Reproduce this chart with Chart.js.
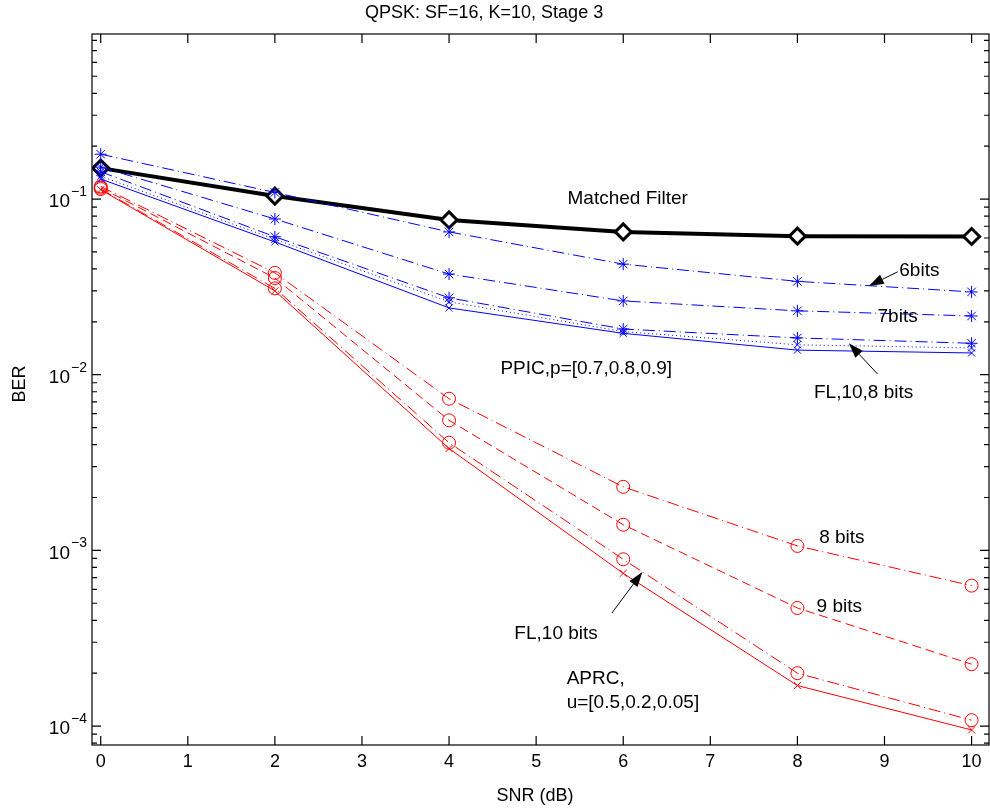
<!DOCTYPE html>
<html>
<head>
<meta charset="utf-8">
<script src="https://cdn.jsdelivr.net/npm/chart.js@4"></script>
<style>
  body { margin: 0; background: #fff; }
  #wrap { width: 990px; height: 812px; }
</style>
</head>
<body>
<div id="wrap"><canvas id="berChart" width="990" height="812"></canvas></div>
<script>
const snr = [0, 2, 4, 6, 8, 10];
const xTicks = [0, 1, 2, 3, 4, 5, 6, 7, 8, 9, 10];
const yDecades = [1e-4, 1e-3, 1e-2, 1e-1];
const yExponents = ['\u22124', '\u22123', '\u22122', '\u22121'];

// BER values
const matchedFilter = [0.150, 0.104, 0.076, 0.065, 0.0615, 0.0612];
const ppic6 = [0.180, 0.109, 0.065, 0.0426, 0.034, 0.0296];
const ppic7 = [0.152, 0.077, 0.0374, 0.0263, 0.0231, 0.0216];
const ppic8 = [0.143, 0.061, 0.0274, 0.0182, 0.0162, 0.0151];
const ppicFl8 = [0.135, 0.059, 0.026, 0.0176, 0.0148, 0.0142];
const ppicFl10 = [0.130, 0.057, 0.024, 0.0172, 0.0138, 0.0133];
const aprc8 = [0.118, 0.038, 0.0073, 0.0023, 0.00106, 0.00063];
const aprc9 = [0.116, 0.0355, 0.0055, 0.0014, 0.00047, 0.000225];
const aprc10 = [0.114, 0.031, 0.0041, 0.00089, 0.0002, 0.000108];
const aprcFl10 = [0.113, 0.030, 0.0038, 0.00074, 0.00017, 0.000095];

// text notes on the plot (data coordinates, left edge / vertical middle)
const noteTexts = ['Matched Filter', '6bits', '7bits', 'FL,10,8 bits', 'PPIC,p=[0.7,0.8,0.9]',
  '8 bits', '9 bits', 'FL,10 bits', 'APRC,', 'u=[0.5,0.2,0.05]'];
const noteX = [5.36, 9.17, 8.92, 8.19, 4.59, 8.25, 8.22, 4.75, 5.35, 5.35];
const noteY = [0.1, 0.0389, 0.0213, 0.00787, 0.01076, 0.001178, 0.000476, 0.000334, 0.000185, 0.000136];

// arrows: tail -> head
const arrowTail = [[9.15, 0.0385], [8.92, 0.0101], [5.87, 0.00044]];
const arrowHead = [[8.82, 0.032], [8.59, 0.0151], [6.22, 0.000753]];

const FONT = '"Liberation Sans", Arial, Helvetica, sans-serif';
const BLUE = '#0000ff';
const RED = '#ff0000';
const DASHDOT = [12, 4, 1, 4];
const DASH = [9, 5];
const DOT = [1, 3];

function pts(vals) {
  return vals.map((v, i) => ({ x: snr[i], y: v }));
}

function series(label, vals, color, dash, marker, radius, order) {
  return {
    label: label,
    data: pts(vals),
    borderColor: color,
    backgroundColor: 'rgba(0,0,0,0)',
    borderWidth: 1,
    borderDash: dash,
    pointStyle: marker,
    pointRadius: radius,
    pointBorderColor: color,
    pointBackgroundColor: 'rgba(0,0,0,0)',
    pointBorderWidth: 1,
    tension: 0,
    order: order
  };
}

const axisBox = {
  id: 'axisBox',
  afterDraw(chart) {
    const ctx = chart.ctx;
    const xs = chart.scales.x;
    const ys = chart.scales.y;
    const { left, right, top, bottom } = chart.chartArea;
    ctx.save();
    ctx.strokeStyle = '#000';
    ctx.fillStyle = '#000';
    ctx.lineWidth = 1.2;
    ctx.strokeRect(left, top, right - left, bottom - top);

    // x ticks and labels
    ctx.font = '18px ' + FONT;
    ctx.textAlign = 'center';
    ctx.textBaseline = 'top';
    xTicks.forEach(t => {
      const px = xs.getPixelForValue(t);
      ctx.beginPath();
      ctx.moveTo(px, bottom); ctx.lineTo(px, bottom - 9);
      ctx.moveTo(px, top); ctx.lineTo(px, top + 9);
      ctx.stroke();
      ctx.fillText(String(t), px, bottom + 8);
    });

    // y ticks (log) with minor ticks
    for (let e = -5; e <= 0; e++) {
      for (let m = 1; m <= 9; m++) {
        const v = m * Math.pow(10, e);
        if (v < ys.min || v > ys.max) continue;
        const py = ys.getPixelForValue(v);
        const len = m === 1 ? 9 : 5;
        ctx.beginPath();
        ctx.moveTo(left, py); ctx.lineTo(left + len, py);
        ctx.moveTo(right, py); ctx.lineTo(right - len, py);
        ctx.stroke();
      }
    }
    yDecades.forEach((d, i) => {
      const py = ys.getPixelForValue(d);
      ctx.font = '19px ' + FONT;
      ctx.textAlign = 'right';
      ctx.textBaseline = 'middle';
      ctx.fillText('10', 70, py + 3);
      ctx.font = '14px ' + FONT;
      ctx.textAlign = 'left';
      ctx.fillText(yExponents[i], 71, py - 7);
    });

    // title and axis labels
    ctx.font = '18px ' + FONT;
    ctx.textAlign = 'left';
    ctx.textBaseline = 'middle';
    ctx.fillText('QPSK: SF=16, K=10, Stage 3', 365, 13);
    ctx.textAlign = 'center';
    ctx.fillText('SNR (dB)', 535, 796);
    ctx.save();
    ctx.translate(20, 384);
    ctx.rotate(-Math.PI / 2);
    ctx.fillText('BER', 0, 0);
    ctx.restore();

    // notes
    ctx.font = '19px ' + FONT;
    ctx.textAlign = 'left';
    ctx.textBaseline = 'middle';
    noteTexts.forEach((t, i) => {
      ctx.fillText(t, xs.getPixelForValue(noteX[i]), ys.getPixelForValue(noteY[i]));
    });

    // arrows
    ctx.lineWidth = 1;
    arrowTail.forEach((tail, i) => {
      const x1 = xs.getPixelForValue(tail[0]), y1 = ys.getPixelForValue(tail[1]);
      const x2 = xs.getPixelForValue(arrowHead[i][0]), y2 = ys.getPixelForValue(arrowHead[i][1]);
      const ang = Math.atan2(y2 - y1, x2 - x1);
      const hl = 15, hw = 5;
      ctx.beginPath();
      ctx.moveTo(x1, y1); ctx.lineTo(x2 - hl * Math.cos(ang), y2 - hl * Math.sin(ang));
      ctx.stroke();
      ctx.beginPath();
      ctx.moveTo(x2, y2);
      ctx.lineTo(x2 - hl * Math.cos(ang) + hw * Math.sin(ang), y2 - hl * Math.sin(ang) - hw * Math.cos(ang));
      ctx.lineTo(x2 - hl * Math.cos(ang) - hw * Math.sin(ang), y2 - hl * Math.sin(ang) + hw * Math.cos(ang));
      ctx.closePath();
      ctx.fill();
    });
    ctx.restore();
  }
};

const ctx = document.getElementById('berChart').getContext('2d');
new Chart(ctx, {
  type: 'line',
  data: {
    datasets: [
      {
        label: 'Matched Filter',
        data: pts(matchedFilter),
        borderColor: '#000',
        borderWidth: 4,
        pointStyle: 'rectRot',
        pointRadius: 8,
        pointBorderColor: '#000',
        pointBackgroundColor: '#fff',
        pointBorderWidth: 3,
        tension: 0,
        order: 20
      },
      series('PPIC 6bits', ppic6, BLUE, DASHDOT, 'star', 6, 5),
      series('PPIC 7bits', ppic7, BLUE, DASHDOT, 'star', 6, 5),
      series('PPIC 8bits', ppic8, BLUE, DASHDOT, 'star', 6, 5),
      series('PPIC FL 8bits', ppicFl8, BLUE, DOT, 'crossRot', 5, 5),
      series('PPIC FL 10bits', ppicFl10, BLUE, [], 'crossRot', 5, 5),
      series('APRC 8bits', aprc8, RED, DASHDOT, 'circle', 6.5, 5),
      series('APRC 9bits', aprc9, RED, DASH, 'circle', 6.5, 5),
      series('APRC 10bits', aprc10, RED, DASHDOT, 'circle', 6.5, 5),
      series('APRC FL 10bits', aprcFl10, RED, [], 'crossRot', 5, 5)
    ]
  },
  options: {
    responsive: false,
    animation: false,
    layout: { autoPadding: false, padding: { left: 92, top: 34, right: 1, bottom: 67 } },
    plugins: { legend: { display: false }, tooltip: { enabled: false } },
    scales: {
      x: { type: 'linear', min: -0.1, max: 10.2, display: false },
      y: { type: 'logarithmic', min: 7.8e-5, max: 0.87, display: false }
    }
  },
  plugins: [axisBox]
});
</script>
</body>
</html>
